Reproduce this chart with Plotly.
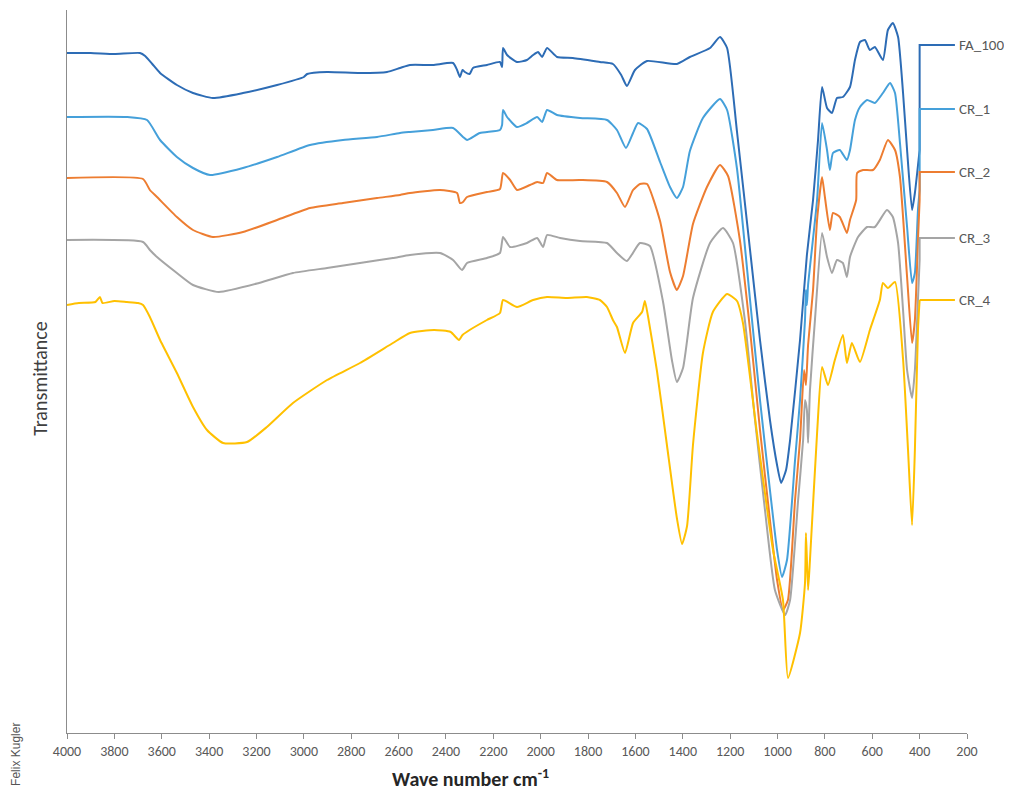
import plotly.graph_objects as go

# Wavenumbers (cm-1) and transmittance (arbitrary units, offset spectra)
fa100_wn = [4000, 3900, 3800, 3692, 3670, 3640, 3607, 3536, 3468, 3384, 3257, 3113, 3000, 2986, 2902, 2763, 2649, 2594, 2552,
            2455, 2370, 2353, 2341, 2330, 2320, 2300, 2286, 2227, 2172, 2163, 2159, 2142, 2100, 2058, 2032, 2011, 1994, 1973,
            1931, 1864, 1750, 1695, 1660, 1636, 1602, 1551, 1425, 1370, 1285, 1243, 1213, 1171, 1116, 1074, 1032, 1002, 985,
            964, 947, 905, 876, 850, 829, 812, 791, 770, 749, 724, 694, 673, 652, 631, 610, 589, 555, 534, 513, 491, 470, 453,
            432, 420, 400]
fa100_t = [680, 680, 679, 680, 677, 669, 660, 648, 640, 635, 640, 648, 656, 659, 661, 660, 661, 665, 668,
           668, 670, 663, 656, 663, 661, 659, 665, 668, 671, 666, 685, 678, 671, 673, 678, 681, 676, 685,
           676, 675, 671, 669, 658, 647, 663, 672, 669, 676, 685, 696, 685, 601, 483, 393, 313, 268, 250,
           263, 293, 393, 478, 533, 593, 646, 625, 620, 635, 636, 646, 673, 691, 693, 683, 686, 673, 703, 710, 696, 640, 583,
           523, 540, 583]

cr1_wn = [4000, 3747, 3662, 3607, 3536, 3468, 3396, 3257, 3113, 2974, 2835, 2691, 2594, 2552, 2455, 2370, 2328, 2311, 2257,
          2172, 2163, 2159, 2142, 2100, 2058, 2015, 1994, 1973, 1931, 1834, 1720, 1678, 1640, 1610, 1589, 1551, 1496, 1454,
          1425, 1399, 1370, 1315, 1243, 1213, 1171, 1116, 1074, 1032, 1002, 981, 960, 926, 905, 884, 880, 876, 871, 833, 812,
          791, 779, 766, 737, 707, 694, 673, 652, 622, 589, 555, 525, 504, 483, 453, 432, 420, 407, 400]
cr1_t = [616, 616, 613, 593, 576, 565, 558, 565, 576, 588, 593, 596, 600, 601, 603, 605, 596, 593, 600,
         603, 608, 623, 616, 606, 610, 616, 611, 623, 618, 615, 613, 603, 585, 600, 610, 604, 571, 546,
         535, 546, 582, 615, 634, 623, 564, 433, 333, 243, 183, 156, 173, 273, 333, 413, 443, 428, 448, 533, 610,
         583, 563, 580, 583, 573, 583, 613, 626, 633, 630, 640, 650, 640, 590, 506, 450, 460, 523, 543]

cr2_wn = [4000, 3679, 3650, 3620, 3536, 3468, 3384, 3257, 3113, 2974, 2835, 2691, 2594, 2552, 2425, 2353, 2341, 2328, 2311,
          2227, 2172, 2159, 2129, 2100, 2045, 2015, 1990, 1973, 1931, 1834, 1720, 1678, 1644, 1610, 1581, 1551, 1496, 1454,
          1425, 1399, 1357, 1298, 1243, 1209, 1159, 1116, 1074, 1032, 1002, 977, 956, 926, 905, 888, 880, 871, 850, 833, 812,
          800, 779, 766, 737, 707, 694, 668, 664, 639, 597, 568, 534, 504, 483, 453, 432, 420, 407, 400]
cr2_t = [555, 554, 543, 536, 516, 503, 496, 501, 513, 525, 530, 535, 538, 540, 543, 540, 530, 531, 536,
         541, 544, 560, 553, 543, 548, 551, 550, 560, 553, 553, 551, 540, 526, 543, 549, 549, 512, 461,
         443, 457, 509, 546, 568, 557, 493, 403, 303, 213, 153, 123, 133, 233, 293, 363, 348, 388, 443, 513, 556,
         536, 503, 520, 516, 500, 513, 533, 560, 563, 563, 573, 593, 583, 556, 456, 390, 413, 493, 533]

cr3_wn = [4000, 3679, 3650, 3620, 3536, 3468, 3359, 3189, 3046, 2902, 2763, 2624, 2552, 2425, 2370, 2332, 2311, 2227, 2172,
          2159, 2129, 2058, 2015, 1990, 1973, 1918, 1834, 1720, 1678, 1636, 1581, 1539, 1484, 1446, 1425, 1399, 1357, 1285,
          1230, 1188, 1138, 1095, 1053, 1011, 968, 947, 913, 892, 884, 876, 871, 863, 842, 812, 791, 770, 749, 724, 707, 694,
          660, 622, 589, 538, 513, 491, 470, 453, 432, 420, 407, 400]
cr3_t = [493, 491, 483, 476, 460, 448, 441, 450, 460, 465, 470, 475, 478, 480, 473, 463, 470, 475, 480,
         496, 486, 490, 495, 486, 498, 495, 492, 490, 480, 472, 490, 487, 432, 373, 351, 365, 435, 490,
         505, 490, 413, 313, 223, 143, 118, 133, 233, 293, 333, 323, 290, 343, 413, 500, 476, 460, 473, 470, 456, 476,
         496, 506, 506, 523, 516, 490, 423, 363, 335, 363, 433, 473]

cr4_wn = [4000, 3950, 3880, 3861, 3850, 3800, 3747, 3700, 3679, 3650, 3607, 3536, 3468, 3409, 3341, 3240, 3156, 3046, 2902,
          2763, 2624, 2552, 2450, 2380, 2345, 2330, 2300, 2227, 2172, 2159, 2100, 2032, 1973, 1890, 1805, 1750, 1720, 1695,
          1678, 1644, 1610, 1572, 1560, 1547, 1509, 1467, 1425, 1403, 1382, 1357, 1315, 1273, 1213, 1171, 1146, 1087, 1019,
          977, 956, 905, 884, 880, 871, 863, 833, 812, 787, 758, 724, 707, 686, 652, 610, 568, 555, 534, 504, 470, 449, 432,
          420, 407, 400]
cr4_t = [428, 430, 431, 436, 430, 432, 431, 430, 428, 416, 393, 360, 326, 303, 290, 291, 306, 330, 353,
         370, 390, 400, 403, 401, 393, 398, 403, 413, 420, 433, 426, 433, 436, 435, 436, 433, 426, 413,
         406, 380, 410, 421, 432, 417, 362, 288, 215, 189, 207, 288, 380, 421, 439, 432, 410, 300, 183,
         133, 55, 100, 150, 200, 143, 173, 300, 366, 348, 373, 398, 370, 390, 371, 403, 433, 450, 445, 451, 374, 283, 208,
         283, 403, 433]

series_names = ["FA_100", "CR_1", "CR_2", "CR_3", "CR_4"]
series_wn = [fa100_wn, cr1_wn, cr2_wn, cr3_wn, cr4_wn]
series_t = [fa100_t, cr1_t, cr2_t, cr3_t, cr4_t]
label_levels = [688, 624, 561, 495, 433]
colors = ["#2D6CB5", "#45A0DA", "#ED7D31", "#A5A5A5", "#FFC000"]
x_ticks = list(range(4000, 199, -200))
leader_end_wn = 251

FONT = "Carlito, Liberation Sans Narrow, Liberation Sans, sans-serif"

fig = go.Figure()
for name, wn, t, col in zip(series_names, series_wn, series_t, colors):
    fig.add_trace(go.Scatter(x=wn, y=t, mode="lines", name=name,
                             line=dict(color=col, width=2, shape="spline", smoothing=0.5),
                             showlegend=False))
for name, wn, t, lvl, col in zip(series_names, series_wn, series_t, label_levels, colors):
    fig.add_trace(go.Scatter(x=[wn[-1], wn[-1], leader_end_wn], y=[t[-1], lvl, lvl], mode="lines",
                             line=dict(color=col, width=2), showlegend=False, hoverinfo="skip",
                             cliponaxis=False))
    fig.add_annotation(x=leader_end_wn, y=lvl, xref="x", yref="y", text=name, showarrow=False,
                       xanchor="left", yanchor="middle", xshift=2,
                       font=dict(family=FONT, size=15, color="#595959"))

fig.add_annotation(x=0.448, y=-0.062, xref="paper", yref="paper", yanchor="middle",
                   text="<b>Wave number cm<sup>-1</sup></b>", showarrow=False,
                   font=dict(family=FONT, size=20, color="#262626"))
fig.add_annotation(x=-0.03, y=0.49, xref="paper", yref="paper", text="Transmittance", textangle=-90,
                   showarrow=False, xanchor="center", yanchor="middle",
                   font=dict(family=FONT, size=20, color="#404040"))
fig.add_annotation(x=-0.0575, y=-0.03, xref="paper", yref="paper", text="Felix Kugler", textangle=-90,
                   showarrow=False, xanchor="center", yanchor="middle",
                   font=dict(family="Liberation Sans, Arial, sans-serif", size=12, color="#555555"))

# page body has an 8px default margin, so size/margins are reduced accordingly
fig.update_layout(
    width=1004, height=785,
    margin=dict(l=59, r=45, t=2, b=60),
    plot_bgcolor="white", paper_bgcolor="white",
    showlegend=False,
    xaxis=dict(range=[4000, 200], tickmode="array", tickvals=x_ticks, ticktext=[str(v) for v in x_ticks],
               showline=True, linecolor="#8C8C8C", linewidth=1, ticks="outside", ticklen=5, tickcolor="#8C8C8C",
               showgrid=False, zeroline=False,
               tickfont=dict(family=FONT, size=14, color="#595959")),
    yaxis=dict(range=[0, 723], showline=True, linecolor="#8C8C8C", linewidth=1, ticks="",
               showticklabels=False, showgrid=False, zeroline=False),
)

fig.write_html("out.html")
